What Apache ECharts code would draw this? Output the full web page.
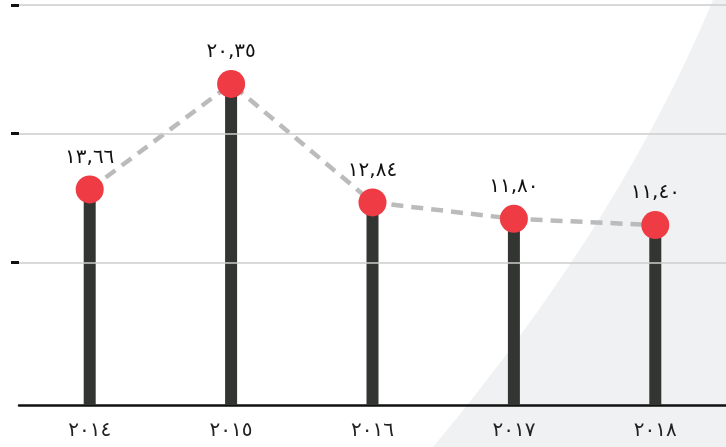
<!DOCTYPE html>
<html><head><meta charset="utf-8">
<script src="https://cdn.jsdelivr.net/npm/echarts@6/dist/echarts.min.js"></script>
<style>html,body{margin:0;padding:0;background:#fff}#c{width:726px;height:447px}</style>
</head><body><div id="c"></div>
<script>
const years = ['٢٠١٤','٢٠١٥','٢٠١٦','٢٠١٧','٢٠١٨'];
const values = [13.66, 20.35, 12.84, 11.80, 11.40];
const gridValues = [9.03, 17.2, 25.35];
const yMax = 25.35;

const arabicDigits = '٠١٢٣٤٥٦٧٨٩';
function toArabic(v){
  return v.toFixed(2).replace('.', ',').replace(/[0-9]/g, d => arabicDigits[+d]);
}

// decorative background curve (quadratic bezier sampled)
const bgPts = [[726,0],[726,447]];
for (let i=0;i<=30;i++){
  const t=i/30, a=(1-t)*(1-t), b=2*t*(1-t), c=t*t;
  bgPts.push([a*433+b*620+c*713, a*447+b*223+c*0]);
}

const chart = echarts.init(document.getElementById('c'), null, {renderer:'canvas'});
chart.setOption({
  animation:false,
  backgroundColor:'#ffffff',
  graphic:[{
    type:'polygon', z:-10, silent:true,
    shape:{points:bgPts},
    style:{fill:'#f0f1f3'}
  }],
  grid:{left:19, right:-2, top:5, bottom:42},
  xAxis:{
    type:'category', data:years,
    axisLine:{show:true, lineStyle:{color:'#111', width:2.5}},
    axisTick:{show:false},
    axisLabel:{color:'#222', fontSize:20, fontFamily:'DejaVu Sans', margin:16},
    splitLine:{show:false}
  },
  yAxis:{
    type:'value', min:0, max:yMax,
    axisLine:{show:false},
    axisTick:{show:true, customValues:gridValues, length:8, inside:false, lineStyle:{color:'#111', width:3}},
    axisLabel:{show:false},
    splitLine:{show:false}
  },
  series:[
    {
      type:'bar', data:values, barWidth:12, z:2,
      itemStyle:{color:'#333532'},
      markLine:{
        silent:true, symbol:'none', label:{show:false},
        lineStyle:{color:'#cccccc', width:1.5, type:'solid'},
        data:gridValues.map(v=>({yAxis:v}))
      }
    },
    {
      type:'line', data:values, z:3,
      symbol:'circle', symbolSize:28,
      itemStyle:{color:'#ef3b44'},
      lineStyle:{color:'#bbbbbb', width:4.5, type:[12,8]},
      label:{show:true, position:'top', distance:8, color:'#111', fontSize:20,
        fontFamily:'DejaVu Sans', formatter:p=>toArabic(p.value)}
    }
  ]
});
</script></body></html>
